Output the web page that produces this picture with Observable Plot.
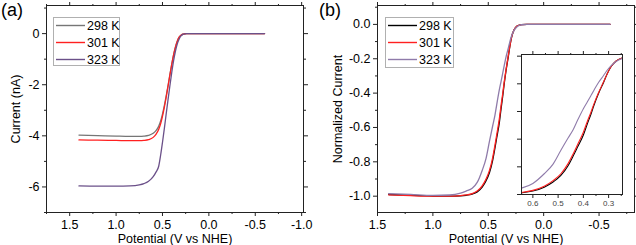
<!DOCTYPE html>
<html><head><meta charset="utf-8">
<script src="https://cdn.jsdelivr.net/npm/d3@7"></script>
<script src="https://cdn.jsdelivr.net/npm/@observablehq/plot@0.6"></script>
<style>
body{margin:0;background:#fff;font-family:"Liberation Sans",Arial,sans-serif;}
#wrap{position:relative;width:636px;height:245px;overflow:hidden;background:#fff}
.abs{position:absolute}
.tag{position:absolute;font-size:18px;color:#000;line-height:20px}
</style></head><body><div id="wrap"></div><script>
// ---- data ----
const series = ["298 K", "301 K", "323 K"];
const colorsA = ["#767676", "#ff2020", "#6b5089"];
const colorsB = ["#000000", "#ff2020", "#8f7baa"];

const potentialA = [1.40,1.20,1.00,0.85,0.75,0.70,0.65,0.60,0.57,0.54,0.52,0.50,0.48,0.46,0.44,0.42,0.40,0.38,0.36,0.34,0.32,0.30,0.28,0.26,0.24,0.20,0.10,0.0,-0.2,-0.4,-0.6];
const current298 = [-3.97,-3.99,-4.01,-4.02,-4.02,-4.01,-3.98,-3.90,-3.80,-3.62,-3.42,-3.15,-2.82,-2.44,-2.03,-1.60,-1.19,-0.82,-0.52,-0.29,-0.14,-0.06,-0.02,-0.006,-0.002,0,0,0,0,0,0];
const current301 = [-4.16,-4.17,-4.18,-4.19,-4.19,-4.18,-4.15,-4.06,-3.94,-3.74,-3.53,-3.24,-2.89,-2.49,-2.06,-1.62,-1.20,-0.83,-0.53,-0.30,-0.14,-0.06,-0.02,-0.006,-0.002,0,0,0,0,0,0];
const current323 = [-5.96,-5.97,-5.97,-5.96,-5.92,-5.87,-5.78,-5.60,-5.42,-5.18,-4.76,-4.26,-3.72,-3.14,-2.58,-2.04,-1.52,-1.06,-0.68,-0.40,-0.21,-0.09,-0.03,-0.008,-0.002,0,0,0,0,0,0];

const potentialB = [1.40,1.20,1.00,0.85,0.75,0.70,0.645,0.60,0.555,0.52,0.489,0.46,0.44,0.423,0.40,0.384,0.37,0.358,0.34,0.32,0.305,0.29,0.27,0.245,0.22,0.20,0.15,0.0,-0.2,-0.4,-0.6];
const norm298 = [-0.990,-0.995,-0.999,-1.000,-0.998,-0.995,-0.988,-0.975,-0.947,-0.91,-0.862,-0.79,-0.72,-0.657,-0.57,-0.488,-0.42,-0.355,-0.27,-0.19,-0.126,-0.075,-0.035,-0.012,-0.004,-0.001,0,0,0,0,0];
const norm301 = [-0.992,-0.997,-1.000,-1.000,-0.997,-0.993,-0.985,-0.970,-0.940,-0.90,-0.850,-0.775,-0.705,-0.640,-0.55,-0.470,-0.405,-0.345,-0.265,-0.185,-0.125,-0.075,-0.035,-0.012,-0.004,-0.001,0,0,0,0,0];
const norm323 = [-0.985,-0.990,-0.995,-0.993,-0.982,-0.970,-0.954,-0.920,-0.850,-0.78,-0.680,-0.590,-0.530,-0.464,-0.38,-0.330,-0.285,-0.246,-0.19,-0.14,-0.10,-0.068,-0.038,-0.017,-0.006,-0.002,0,0,0,0,0];

const xTicksA = [1.5,1.0,0.5,0.0,-0.5,-1.0];
const xMinorA = [1.75,1.25,0.75,0.25,-0.25,-0.75];
const yTicksA = [0,-2,-4,-6];
const yMinorA = [1,-1,-3,-5,-7];
const xTicksB = [1.5,1.0,0.5,0.0,-0.5];
const xMinorB = [1.25,0.75,0.25,-0.25,-0.75];
const yTicksB = [0.0,-0.2,-0.4,-0.6,-0.8,-1.0];
const yMinorB = [0.1,-0.1,-0.3,-0.5,-0.7,-0.9];
const xTicksInset = [0.6,0.5,0.4,0.3];
const xMinorInset = [0.55,0.45,0.35,0.25];
const yTicksInset = [0,-0.2,-0.4,-0.6,-0.8,-1.0];

const xLabel = "Potential (V vs NHE)";

// ---- build ----
const wrap = document.getElementById("wrap");
const FONT = '"Liberation Sans", Arial, sans-serif';
const INK = "#222";
const SVGNS = "http://www.w3.org/2000/svg";

function rowsOf(xs, ys) { return xs.map((x, i) => ({x, y: ys[i]})).reverse(); }

function frameAxes(o) {
  const m = [Plot.frame({stroke: INK, strokeWidth: 1})];
  const blank = () => "";
  m.push(Plot.axisX(o.xMajor, {anchor: "bottom", tickSize: 4, tickPadding: o.tickPad ?? 4, tickFormat: o.xFormat, stroke: INK, fill: o.tickFill ?? "#000", fontSize: o.tickFont, label: o.xLabel ?? null, labelAnchor: "center", labelArrow: "none", labelOffset: o.xLabelOffset}));
  m.push(Plot.axisX(o.xMinor, {anchor: "bottom", tickSize: 2, tickFormat: blank, stroke: INK, label: null}));
  m.push(Plot.axisX(o.xMajor, {anchor: "top", tickSize: 4, tickFormat: blank, stroke: INK, label: null}));
  m.push(Plot.axisX(o.xMinor, {anchor: "top", tickSize: 2, tickFormat: blank, stroke: INK, label: null}));
  m.push(Plot.axisY(o.yMajor, {anchor: "left", tickSize: 4, tickPadding: 3, tickFormat: o.yFormat ?? blank, stroke: INK, fontSize: o.tickFont, label: o.yLabel ?? null, labelAnchor: "center", labelArrow: "none", labelOffset: o.yLabelOffset}));
  if (o.yMinor) m.push(Plot.axisY(o.yMinor, {anchor: "left", tickSize: 2, tickFormat: blank, stroke: INK, label: null}));
  if (o.right !== false) {
    m.push(Plot.axisY(o.yMajor, {anchor: "right", tickSize: 4, tickFormat: blank, stroke: INK, label: null}));
    if (o.yMinor) m.push(Plot.axisY(o.yMinor, {anchor: "right", tickSize: 2, tickFormat: blank, stroke: INK, label: null}));
  }
  return m;
}

function place(el, left, top) {
  el.classList.add("abs");
  el.style.left = left + "px";
  el.style.top = top + "px";
  wrap.appendChild(el);
}

function legend(left, top, w, h, colors) {
  const svg = document.createElementNS(SVGNS, "svg");
  svg.setAttribute("width", w + 1);
  svg.setAttribute("height", h + 1);
  svg.style.position = "absolute";
  svg.style.left = left + "px";
  svg.style.top = top + "px";
  const rect = document.createElementNS(SVGNS, "rect");
  rect.setAttribute("x", 0.5); rect.setAttribute("y", 0.5);
  rect.setAttribute("width", w); rect.setAttribute("height", h);
  rect.setAttribute("fill", "#fff"); rect.setAttribute("stroke", "#b0b0b0");
  svg.appendChild(rect);
  series.forEach((s, i) => {
    const cy = 8.5 + i * 17;
    const ln = document.createElementNS(SVGNS, "line");
    ln.setAttribute("x1", 3); ln.setAttribute("x2", 32);
    ln.setAttribute("y1", cy); ln.setAttribute("y2", cy);
    ln.setAttribute("stroke", colors[i]); ln.setAttribute("stroke-width", 1.4);
    svg.appendChild(ln);
    const tx = document.createElementNS(SVGNS, "text");
    tx.setAttribute("x", 34); tx.setAttribute("y", cy + 4.5);
    tx.setAttribute("font-family", FONT); tx.setAttribute("font-size", "12.5px");
    tx.setAttribute("fill", "#000");
    tx.textContent = s;
    svg.appendChild(tx);
  });
  wrap.appendChild(svg);
}

function tag(text, left, top) {
  const t = document.createElement("div");
  t.className = "tag"; t.textContent = text;
  t.style.left = left + "px"; t.style.top = top + "px";
  wrap.appendChild(t);
}

// Panel (a)
const seriesA = [current298, current301, current323];
const plotA = Plot.plot({
  width: 318, height: 245,
  marginLeft: 46, marginRight: 15, marginTop: 5, marginBottom: 33,
  style: {fontFamily: FONT, fontSize: "12.5px", background: "transparent", color: "#000"},
  x: {domain: [1.75, -1.02]},
  y: {domain: [-7, 1.1]},
  marks: [
    ...seriesA.map((ys, i) => Plot.line(rowsOf(potentialA, ys), {x: "x", y: "y", stroke: colorsA[i], strokeWidth: 1.3, curve: "monotone-x"})),
    ...frameAxes({xMajor: xTicksA, xMinor: xMinorA, yMajor: yTicksA, yMinor: yMinorA,
      xFormat: d => d.toFixed(1), yFormat: d => String(d), tickFont: 12.5,
      xLabel: xLabel, xLabelOffset: 30, yLabel: "Current (nA)", yLabelOffset: 35})
  ]
});
place(plotA, 0, 0);

// Panel (b)
const seriesB = [norm298, norm301, norm323];
const plotB = Plot.plot({
  width: 318, height: 245,
  marginLeft: 59, marginRight: 2, marginTop: 5, marginBottom: 33,
  style: {fontFamily: FONT, fontSize: "12.5px", background: "transparent", color: "#000", overflow: "visible"},
  x: {domain: [1.5, -0.82]},
  y: {domain: [-1.095, 0.11]},
  marks: [
    ...seriesB.map((ys, i) => Plot.line(rowsOf(potentialB, ys), {x: "x", y: "y", stroke: colorsB[i], strokeWidth: 1.3, curve: "monotone-x"})),
    ...frameAxes({xMajor: xTicksB, xMinor: xMinorB, yMajor: yTicksB, yMinor: yMinorB,
      xFormat: d => d.toFixed(1), yFormat: d => d.toFixed(1), tickFont: 12.5,
      xLabel: xLabel, xLabelOffset: 30, yLabel: "Normalized Current", yLabelOffset: 44})
  ]
});
place(plotB, 318, 0);

// Inset
const inset = Plot.plot({
  width: 113, height: 158,
  marginLeft: 6, marginRight: 6, marginTop: 4, marginBottom: 14,
  style: {fontFamily: FONT, fontSize: "8px", background: "#fff", color: "#000"},
  x: {domain: [0.645, 0.245]},
  y: {domain: [-1.0, 0.012]},
  marks: [
    Plot.frame({fill: "#fff"}),
    ...seriesB.map((ys, i) => Plot.line(rowsOf(potentialB, ys), {x: "x", y: "y", stroke: colorsB[i], strokeWidth: 1.1, curve: "monotone-x", clip: true})),
    ...frameAxes({xMajor: xTicksInset, xMinor: xMinorInset, yMajor: yTicksInset,
      xFormat: d => d.toFixed(1), tickFont: 8, tickPad: 2, tickFill: "#444", right: false})
  ]
});
inset.style.overflow = "visible";
place(inset, 515, 50);

legend(53, 17, 66, 48, colorsA);
legend(385, 17, 68, 50, colorsB);
tag("(a)", 1, 0);
tag("(b)", 319, 0);
</script></body></html>
